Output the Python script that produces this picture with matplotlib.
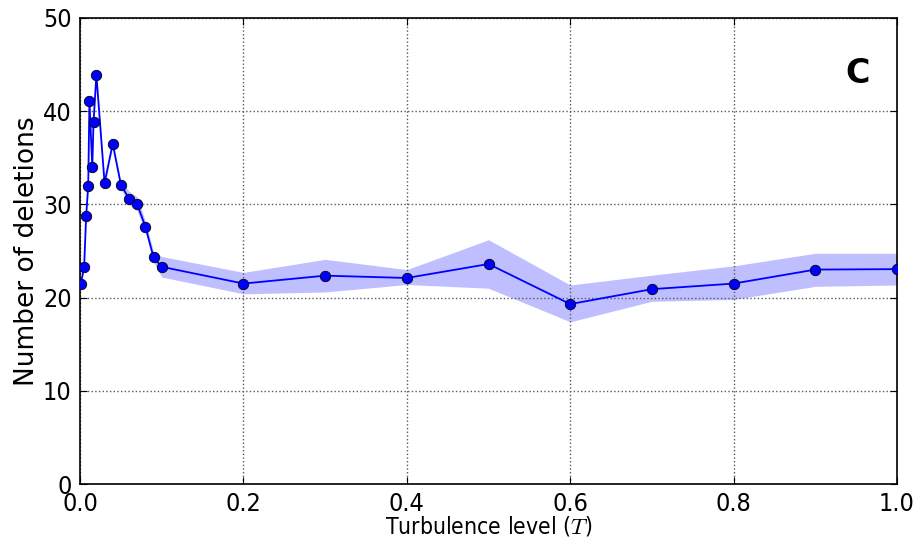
import matplotlib
matplotlib.use("Agg")
import matplotlib.pyplot as plt
from matplotlib import font_manager

turbulence = [0.001, 0.005, 0.0075, 0.01, 0.0115, 0.015, 0.0165, 0.02,
              0.03, 0.04, 0.05, 0.06, 0.07, 0.08, 0.09, 0.1,
              0.2, 0.3, 0.4, 0.5, 0.6, 0.7, 0.8, 0.9, 1.0]
deletions = [21.5, 23.3, 28.8, 32.0, 41.1, 34.0, 38.8, 43.9,
             32.3, 36.5, 32.1, 30.6, 30.0, 27.6, 24.3, 23.3,
             21.5, 22.35, 22.1, 23.6, 19.3, 20.9, 21.5, 23.0, 23.05]
lower = [21.3, 23.0, 28.5, 31.7, 40.8, 33.7, 38.5, 43.6,
         32.0, 36.2, 31.7, 30.0, 29.3, 27.0, 23.8, 22.2,
         20.4, 20.6, 21.4, 21.0, 17.4, 19.6, 19.8, 21.2, 21.35]
upper = [21.7, 23.6, 29.1, 32.3, 41.4, 34.3, 39.1, 44.2,
         32.6, 36.8, 32.5, 31.4, 30.8, 28.2, 24.9, 24.4,
         22.7, 24.1, 23.0, 26.2, 21.35, 22.4, 23.4, 24.75, 24.75]

xticks = [0.0, 0.2, 0.4, 0.6, 0.8, 1.0]
yticks = [0, 10, 20, 30, 40, 50]

# use a condensed face if one is installed
names = {f.name for f in font_manager.fontManager.ttflist}
condensed = None
for cand in ["DejaVu Sans Condensed", "Liberation Sans Narrow"]:
    if cand in names:
        condensed = cand
        break
if condensed is None:
    for f in font_manager.fontManager.ttflist:
        if f.name == "DejaVu Sans" and f.stretch in ("condensed", "semi-condensed", 600, 500):
            condensed = "DejaVu Sans"
            break

plt.rcParams['font.family'] = ['DejaVu Sans']
plt.rcParams['mathtext.fontset'] = 'cm'

if condensed:
    tick_font = dict(family=[condensed, 'DejaVu Sans'], size=18)
    xlab_font = dict(family=[condensed, 'DejaVu Sans'], size=16.5)
    if condensed == "DejaVu Sans":
        tick_font['stretch'] = 'condensed'
        xlab_font['stretch'] = 'condensed'
else:
    tick_font = dict(family=['DejaVu Sans'], size=17)
    xlab_font = dict(family=['DejaVu Sans'], size=15)

fig = plt.figure(figsize=(9.2, 5.42), dpi=100)
ax = fig.add_axes([0.087, 0.107, 0.888, 0.860])

ax.fill_between(turbulence, lower, upper, color='blue', alpha=0.25, linewidth=0)
ax.plot(turbulence, deletions, '-o', color='blue', lw=1.3, markersize=7.5,
        markerfacecolor='blue', markeredgecolor='black', markeredgewidth=0.6,
        zorder=3)

ax.set_xlim(0, 1.0)
ax.set_ylim(0, 50)
ax.set_xticks(xticks)
ax.set_yticks(yticks)
ax.set_xticklabels([f"{t:.1f}" for t in xticks], **tick_font)
ax.set_yticklabels([str(t) for t in yticks], **tick_font)
ax.grid(True, linestyle=':', color='0.35', linewidth=1.0)
ax.tick_params(direction='in', top=True, right=True, length=5, pad=6)
for s in ax.spines.values():
    s.set_linewidth(1.2)

ax.set_xlabel(r"Turbulence level ($T$)", labelpad=-1, **xlab_font)
ax.set_ylabel("Number of deletions", fontsize=19, labelpad=2)
ax.text(0.952, 0.88, "C", transform=ax.transAxes, fontsize=24,
        fontweight='bold', ha='center', va='center')

fig.savefig("out.png", dpi=100)
